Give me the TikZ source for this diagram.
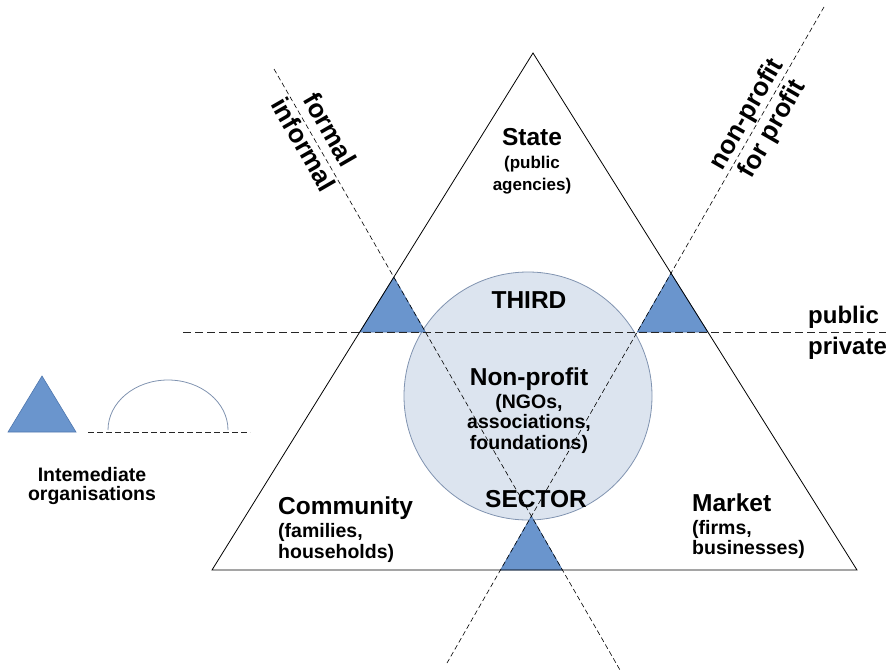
\documentclass[tikz,border=0pt]{standalone}
\usepackage{fontspec}
\setmainfont{Liberation Sans}
\definecolor{orgfill}{HTML}{6A95CD}
\definecolor{orgline}{HTML}{4F77AE}
\definecolor{sectorfill}{HTML}{DCE4EF}
\definecolor{sectorline}{HTML}{8093B0}
\newcommand\headfont{\fontsize{24.5}{26}\selectfont\bfseries}
\begin{document}
\begin{tikzpicture}[x=1pt,y=-1pt,
  frame/.style={draw=black, line width=0.8pt, line join=miter},
  divide/.style={draw=black, line width=0.6pt, dash pattern=on 5pt off 3pt},
  hdivide/.style={draw=black!85, line width=0.9pt, dash pattern=on 8pt off 4pt},
  org/.style={fill=orgfill, draw=orgline, line width=0.6pt},
  sector/.style={fill=sectorfill, draw=sectorline, line width=0.8pt},
  block/.style={inner sep=0pt, align=center, font=\fontsize{19.5}{20.5}\selectfont\bfseries},
  smallblock/.style={inner sep=0pt, align=center, font=\fontsize{17}{22}\selectfont\bfseries},
  lblock/.style={inner sep=0pt, align=left, font=\fontsize{19.5}{20.3}\selectfont\bfseries},
  axislabel/.style={inner sep=0pt, align=center, font=\fontsize{26}{30}\selectfont\bfseries},
  sidelabel/.style={inner sep=0pt, align=left, font=\fontsize{24}{31}\selectfont\bfseries},
  legendlabel/.style={inner sep=0pt, align=center, font=\fontsize{19.5}{18.5}\selectfont\bfseries}]
\useasboundingbox (0,0) rectangle (892,672);

% corners of the sector triangle
\coordinate (apex) at (533,53);
\coordinate (bl) at (212,570);
\coordinate (br) at (857,570);

% ends of the three dividing lines
\coordinate (fa) at (274,69);
\coordinate (fb) at (620,670);
\coordinate (na) at (824,7);
\coordinate (nb) at (447,663);
\coordinate (ha) at (183,332);
\coordinate (hb) at (886,332);

% corners of the intermediate areas
\coordinate (lt) at (intersection of apex--bl and fa--fb);
\coordinate (l1) at (intersection of apex--bl and ha--hb);
\coordinate (l2) at (intersection of fa--fb and ha--hb);
\coordinate (rt) at (intersection of apex--br and na--nb);
\coordinate (r1) at (intersection of na--nb and ha--hb);
\coordinate (r2) at (intersection of apex--br and ha--hb);
\coordinate (bt) at (intersection of fa--fb and na--nb);
\coordinate (b1) at (intersection of na--nb and bl--br);
\coordinate (b2) at (intersection of fa--fb and bl--br);

% third sector circle
\draw[sector] (528,396) circle[radius=124pt];

% intermediate organisations
\draw[org] (lt) -- (l1) -- (l2) -- cycle;
\draw[org] (rt) -- (r1) -- (r2) -- cycle;
\draw[org] (bt) -- (b1) -- (b2) -- cycle;

% main triangle
\draw[frame] (apex) -- (bl) -- (br) -- cycle;

% dividing lines
\draw[hdivide] (ha) -- (hb);
\draw[divide] (fa) -- (fb);
\draw[divide] (na) -- (nb);

% sector texts (base anchor sits on the last line)
\node[smallblock, anchor=base] (state) at (532,190) {{\headfont State}\\[1pt](public\\agencies)};
\node[block, anchor=base] (third) at (529,308) {\headfont THIRD};
\node[block, anchor=base] (nonprofit) at (529,449) {{\headfont Non-profit}\\[2.5pt](NGOs,\\associations,\\foundations)};
\node[block, anchor=base] (sector) at (536,507.5) {\headfont SECTOR};
\node[lblock, anchor=base west] (community) at (278,558) {{\headfont Community}\\[2.5pt](families,\\households)};
\node[lblock, anchor=base west] (market) at (692,554.5) {{\headfont Market}\\[2.5pt](firms,\\businesses)};

% axis texts
\node[axislabel, rotate=-60] (formal) at (317,137) {formal\\informal};
\node[axislabel, rotate=60] (profit) at (760,122) {non-profit\\for profit};
\node[sidelabel, anchor=base west] (public) at (808,354) {public\\private};

% legend
\coordinate (la) at (88,432);
\coordinate (lb) at (250,432);
\coordinate (g1) at (8,432);
\coordinate (g2) at (76,432);
\coordinate (g3) at (42,376);
\draw[org] (g1) -- (g2) -- (g3) -- cycle;
\draw[draw=sectorline, line width=0.8pt] (108,430) arc[start angle=180, end angle=0, x radius=60pt, y radius=50pt];
\draw[hdivide, line width=0.8pt, dash pattern=on 6pt off 3pt] (la) -- (lb);
\node[legendlabel, anchor=base] (legend) at (92,500) {Intemediate\\organisations};
\end{tikzpicture}
\end{document}
